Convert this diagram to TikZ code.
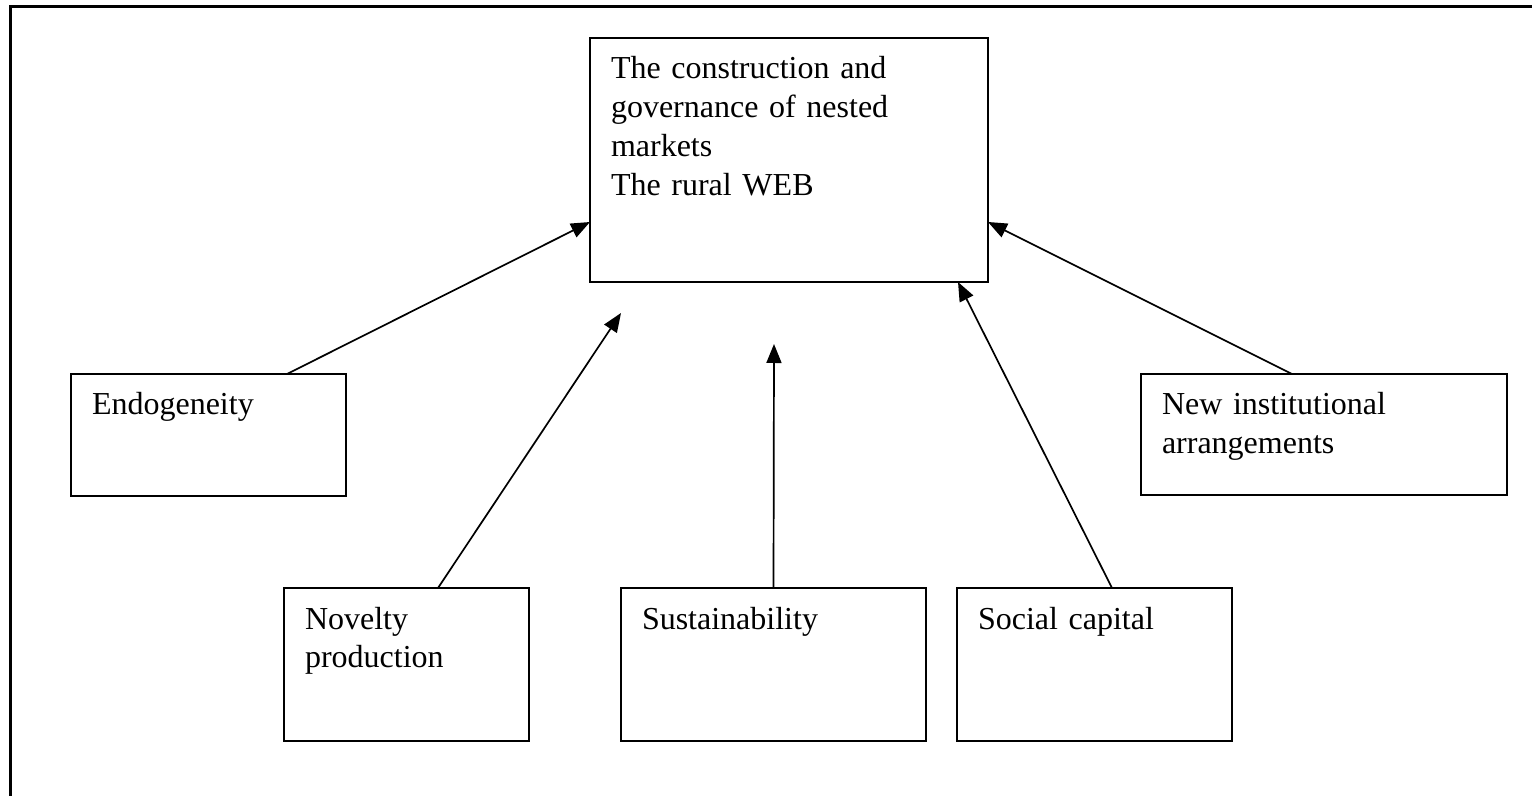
\documentclass[tikz,border=0pt]{standalone}
\usepackage{fontspec}
\setmainfont{Liberation Serif}
\usetikzlibrary{arrows.meta}

\tikzset{
  factor/.style={draw, line width=1pt, anchor=north west, align=left, inner xsep=10.5pt, inner ysep=0pt, outer sep=0pt, text height=20.5pt, font=\fontsize{16}{19.4}\selectfont},
  feed/.style={line width=0.85pt, -{Triangle[length=9.5pt,width=7.5pt]}}
}

\begin{document}
\begin{tikzpicture}[x=0.5pt,y=-0.5pt]
\useasboundingbox (0,0) rectangle (1532,796);

% frame
\draw[line width=1.5pt] (10,796) -- (10,7) -- (1532,7);

% top
\node (web)[factor, text width=178pt, text depth=101.5pt] at (590,38) {The construction and\\governance of nested\\markets\\The rural WEB};

% factors
\node (endo)[factor, text width=116.5pt, text depth=40.5pt] at (71,374) {Endogeneity};
\node (newinst)[factor, text width=162pt, text depth=40pt] at (1141,374) {New institutional\\arrangements};

\node (novelty)[factor, text width=101.5pt, text depth=56pt] at (284,588) {Novelty\\production};
\node (sust)[factor, text width=131.5pt, text depth=56pt] at (621,588) {Sustainability};
\node (social)[factor, text width=116.5pt, text depth=56pt] at (957,588) {Social capital};

% arrows
\coordinate (novtip) at (621,313);
\coordinate (susttip) at (774,344);

\draw[feed] ([xshift=108pt]endo.north west) -- ([yshift=-92pt]web.north west);
\draw[feed] ([xshift=77pt]novelty.north west) -- (novtip);
\draw[feed] (sust.north) -- (susttip);
\draw[feed] ([xshift=77.5pt]social.north west) -- ([xshift=-15pt]web.south east);
\draw[feed] ([xshift=75.5pt]newinst.north west) -- ([yshift=-92pt]web.north east);

\end{tikzpicture}
\end{document}
